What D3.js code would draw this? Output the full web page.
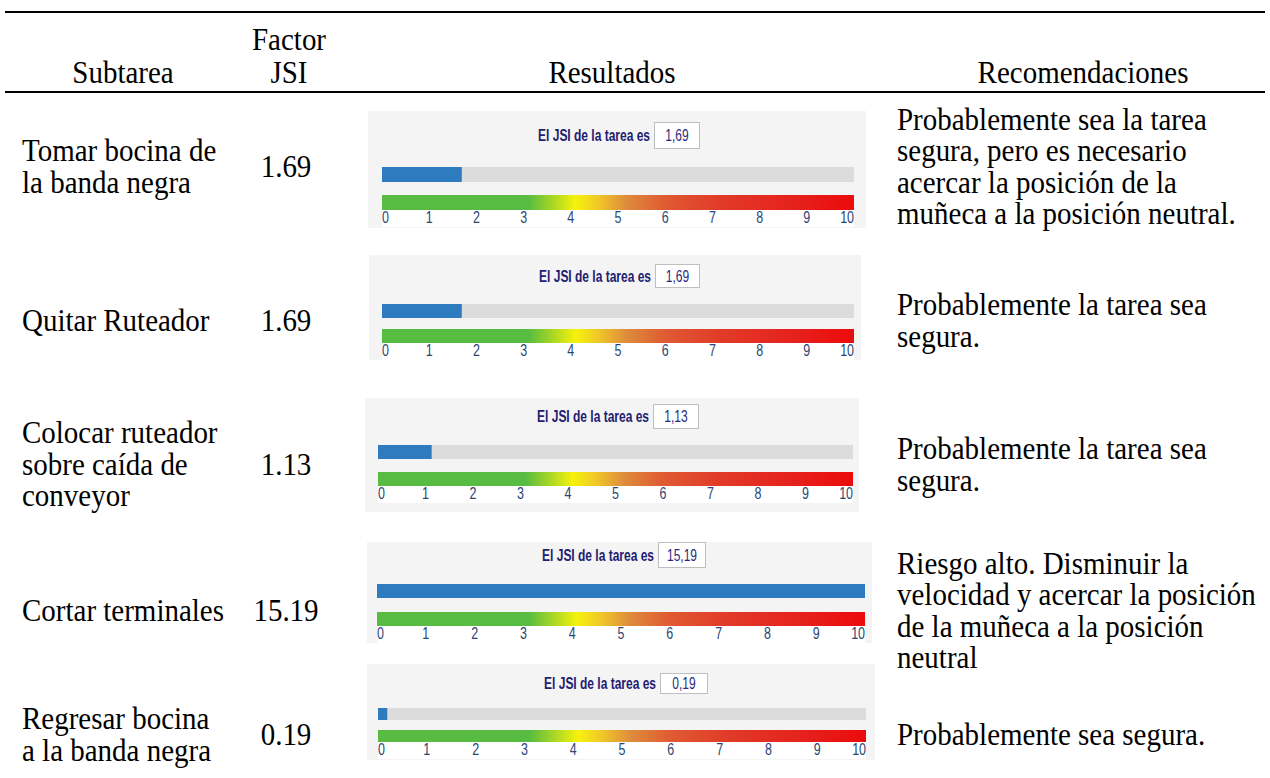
<!DOCTYPE html>
<html>
<head>
<meta charset="utf-8">
<script src="https://cdn.jsdelivr.net/npm/d3@7"></script>
<style>
  body { margin: 0; background: #fff; }
  svg { display: block; }
</style>
</head>
<body>
<div id="chart"></div>
<script>
// ─── DATA ─────────────────────────────────────────────
const headerLabels = [["Subtarea"], ["Factor", "JSI"], ["Resultados"], ["Recomendaciones"]];
const subtareas = [
  ["Tomar bocina de", "la banda negra"],
  ["Quitar Ruteador"],
  ["Colocar ruteador", "sobre caída de", "conveyor"],
  ["Cortar terminales"],
  ["Regresar bocina", "a la banda negra"]
];
const jsiValues = [1.69, 1.69, 1.13, 15.19, 0.19];
const recomendaciones = [
  ["Probablemente sea la tarea", "segura, pero es necesario", "acercar la posición de la", "muñeca a la posición neutral."],
  ["Probablemente la tarea sea", "segura."],
  ["Probablemente la tarea sea", "segura."],
  ["Riesgo alto. Disminuir la", "velocidad y acercar la posición", "de la muñeca a la posición", "neutral"],
  ["Probablemente sea segura."]
];
const scaleTicks = [0, 1, 2, 3, 4, 5, 6, 7, 8, 9, 10];
const scaleDomain = [0, 10];
const widgetLabel = "El JSI de la tarea es";

// ─── LAYOUT ───────────────────────────────────────────
const width = 1270, height = 778;
const fontSize = 29;
const lineGap = 31.5;
const stretchY = 1.12;   // the source picture is a bit taller than wide
const rowCenters = [167, 321, 465, 611, 735];
const headerCenters = [123, 289, 612, 1083];
const subX = 22, valueX = 286, recX = 897;

// each result widget was pasted at a slightly different size
const panels = [
  { bx: 368, by: 111, bw: 498, bh: 117, x0: 382, x1: 854, boxX: 654, boxY: 122, boxW: 45, boxH: 26, grayY: 167, colorY: 195, barH: 15 },
  { bx: 369, by: 255, bw: 492, bh: 105, x0: 382, x1: 854, boxX: 655, boxY: 264, boxW: 44, boxH: 23, grayY: 304, colorY: 329, barH: 14 },
  { bx: 365, by: 398, bw: 494, bh: 114, x0: 378, x1: 853, boxX: 653, boxY: 404, boxW: 45, boxH: 24, grayY: 445, colorY: 472, barH: 14 },
  { bx: 367, by: 542, bw: 505, bh: 101, x0: 377, x1: 865, boxX: 658, boxY: 542, boxW: 47, boxH: 25, grayY: 584, colorY: 612, barH: 14 },
  { bx: 367, by: 664, bw: 508, bh: 96,  x0: 378, x1: 866, boxX: 660, boxY: 673, boxW: 47, boxH: 20, grayY: 708, colorY: 730, barH: 12 }
];

const gradientStops = [
  [0, "#58bc42"], [0.31, "#58bc42"], [0.36, "#a6d626"], [0.41, "#f6f20c"],
  [0.46, "#f0c628"], [0.52, "#de8a3c"], [0.60, "#e05a32"], [0.72, "#e13a28"],
  [0.88, "#e6201c"], [1, "#eb0b0b"]
];

const commaFormat = d3.formatLocale({ decimal: ",", thousands: ".", grouping: [3], currency: ["", ""] }).format(".2f");
const dotFormat = d3.format(".2f");

const serif = "'Liberation Serif', 'Times New Roman', serif";
const sans = "'Liberation Sans', Arial, sans-serif";

// ─── SVG ──────────────────────────────────────────────
const svg = d3.select("#chart")
  .append("svg")
  .attr("width", width)
  .attr("height", height)
  .style("background", "#fff");

const grad = svg.append("defs").append("linearGradient")
  .attr("id", "jsiGrad")
  .attr("x1", "0%").attr("x2", "100%").attr("y1", "0%").attr("y2", "0%");
grad.selectAll("stop")
  .data(gradientStops)
  .enter().append("stop")
  .attr("offset", d => d[0])
  .attr("stop-color", d => d[1]);

// baseline of line i out of n lines centred on cy
function lineY(cy, i, n) {
  return cy + (i - (n - 1) / 2) * lineGap + fontSize * 0.34;
}

// text placed at x,y with its own scale (keeps the baseline fixed)
function putText(g, x, y, sx, sy) {
  return g.append("text")
    .attr("transform", `translate(${x},${y}) scale(${sx},${sy})`);
}

function serifText(g, x, y, t, anchor) {
  return putText(g, x, y, 1, stretchY)
    .attr("text-anchor", anchor || "start")
    .attr("font-family", serif)
    .attr("font-size", fontSize)
    .attr("fill", "#000")
    .text(t);
}

// ─── HEADER ───────────────────────────────────────────
svg.append("rect").attr("x", 5).attr("y", 11).attr("width", 1260).attr("height", 2).attr("fill", "#000");
svg.append("rect").attr("x", 5).attr("y", 91).attr("width", 1260).attr("height", 2).attr("fill", "#000");

headerLabels.forEach((lines, c) => {
  lines.forEach((t, i) => {
    serifText(svg, headerCenters[c], 83 - (lines.length - 1 - i) * 33, t, "middle");
  });
});

// ─── TABLE ROWS ───────────────────────────────────────
const rows = svg.selectAll("g.row")
  .data(jsiValues)
  .enter().append("g")
  .attr("class", "row");

rows.each(function(v, r) {
  const g = d3.select(this);
  const cy = rowCenters[r];

  subtareas[r].forEach((t, i, arr) => serifText(g, subX, lineY(cy, i, arr.length), t));
  serifText(g, valueX, lineY(cy, 0, 1), dotFormat(v), "middle");
  recomendaciones[r].forEach((t, i, arr) => serifText(g, recX, lineY(cy, i, arr.length), t));

  drawWidget(g, panels[r], v);
});

// ─── JSI RESULT WIDGET ────────────────────────────────
function drawWidget(g, p, value) {
  const x = d3.scaleLinear().domain(scaleDomain).range([p.x0, p.x1]).clamp(true);
  const narrow = 0.75;

  g.append("rect")
    .attr("x", p.bx).attr("y", p.by).attr("width", p.bw).attr("height", p.bh)
    .attr("fill", "#f4f4f4");

  // label + value box
  const midY = p.boxY + p.boxH / 2 + 6;
  g.append("rect")
    .attr("x", p.boxX + 0.5).attr("y", p.boxY + 0.5)
    .attr("width", p.boxW).attr("height", p.boxH)
    .attr("fill", "#fff").attr("stroke", "#bfbfbf");
  putText(g, p.boxX + p.boxW / 2 + 0.5, midY, narrow, 1)
    .attr("text-anchor", "middle")
    .attr("font-family", sans).attr("font-size", 16)
    .attr("fill", "#2a2a7c")
    .text(commaFormat(value));
  putText(g, p.boxX - 4, midY, narrow, 1)
    .attr("text-anchor", "end")
    .attr("font-family", sans).attr("font-size", 16).attr("font-weight", "bold")
    .attr("fill", "#1f2070")
    .text(widgetLabel);

  // value bar
  g.append("rect")
    .attr("x", p.x0).attr("y", p.grayY).attr("width", p.x1 - p.x0).attr("height", p.barH)
    .attr("fill", "#dcdcdc");
  g.append("rect")
    .attr("x", p.x0).attr("y", p.grayY).attr("width", x(value) - p.x0).attr("height", p.barH)
    .attr("fill", "#2f7bc0");

  // colour scale + tick labels
  g.append("rect")
    .attr("x", p.x0).attr("y", p.colorY).attr("width", p.x1 - p.x0).attr("height", p.barH)
    .attr("fill", "url(#jsiGrad)");
  g.append("rect")
    .attr("x", p.x0).attr("y", p.colorY + p.barH).attr("width", p.x1 - p.x0).attr("height", 17)
    .attr("fill", "#fff");
  scaleTicks.forEach((d, i) => {
    putText(g, x(d), p.colorY + p.barH + 13, 0.78, 1)
      .attr("text-anchor", i === 0 ? "start" : (i === scaleTicks.length - 1 ? "end" : "middle"))
      .attr("font-family", sans).attr("font-size", 16)
      .attr("fill", "#2c4673")
      .text(d);
  });
}
</script>
</body>
</html>
